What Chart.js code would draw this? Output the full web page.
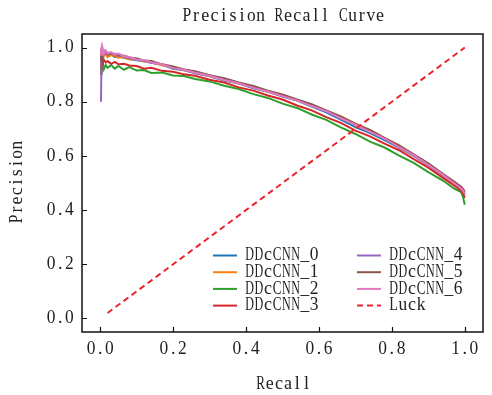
<!DOCTYPE html>
<html>
<head>
<meta charset="utf-8">
<script src="https://cdn.jsdelivr.net/npm/chart.js@4.4.1/dist/chart.umd.min.js"></script>
<style>
  body { margin: 0; background: #fff; }
  #wrap { width: 492px; height: 395px; }
</style>
</head>
<body>
<div id="wrap"><canvas id="pr" width="492" height="395"></canvas></div>
<script>
// recall grid shared by all curves
const recall = [0.002, 0.004, 0.006, 0.01, 0.015, 0.02, 0.03, 0.04, 0.05, 0.065, 0.08, 0.1, 0.12, 0.14, 0.17,
  0.2, 0.23, 0.26, 0.3, 0.34, 0.38, 0.42, 0.46, 0.5, 0.54, 0.58, 0.62, 0.66, 0.7, 0.74, 0.78, 0.82, 0.86,
  0.9, 0.94, 0.97, 0.99, 0.995, 1.0];

const precision0 = [0.95, 1.0, 0.97, 0.98, 0.975, 0.97, 0.975, 0.965, 0.97, 0.962, 0.958, 0.953, 0.949, 0.944, 0.936,
  0.922, 0.916, 0.905, 0.894, 0.878, 0.867, 0.85, 0.837, 0.819, 0.804, 0.782, 0.761, 0.734, 0.706, 0.684, 0.658, 0.631, 0.6,
  0.565, 0.528, 0.499, 0.479, 0.47, 0.458];
const precision1 = [0.97, 0.99, 0.96, 0.975, 0.98, 0.965, 0.972, 0.968, 0.962, 0.965, 0.956, 0.958, 0.949, 0.946, 0.935,
  0.928, 0.916, 0.91, 0.895, 0.883, 0.867, 0.854, 0.837, 0.823, 0.805, 0.788, 0.766, 0.745, 0.719, 0.695, 0.665, 0.637, 0.603,
  0.569, 0.531, 0.501, 0.481, 0.473, 0.462];
const precision2 = [0.93, 0.9, 0.95, 0.92, 0.935, 0.925, 0.935, 0.922, 0.932, 0.918, 0.928, 0.915, 0.917, 0.906, 0.908,
  0.897, 0.895, 0.884, 0.875, 0.859, 0.847, 0.828, 0.814, 0.793, 0.777, 0.753, 0.733, 0.705, 0.681, 0.653, 0.631, 0.601, 0.574,
  0.54, 0.509, 0.48, 0.466, 0.45, 0.42];
const precision3 = [0.9, 0.96, 0.94, 0.955, 0.945, 0.95, 0.94, 0.947, 0.938, 0.94, 0.934, 0.932, 0.922, 0.925, 0.914,
  0.911, 0.901, 0.896, 0.881, 0.871, 0.853, 0.841, 0.823, 0.808, 0.786, 0.768, 0.743, 0.722, 0.693, 0.672, 0.645, 0.621, 0.588,
  0.557, 0.519, 0.492, 0.472, 0.462, 0.445];
const precision4 = [0.8, 1.0, 0.98, 0.99, 0.978, 0.982, 0.975, 0.978, 0.97, 0.968, 0.96, 0.956, 0.953, 0.944, 0.938,
  0.925, 0.919, 0.908, 0.898, 0.882, 0.87, 0.853, 0.84, 0.822, 0.807, 0.785, 0.766, 0.74, 0.716, 0.69, 0.665, 0.634, 0.605,
  0.568, 0.533, 0.502, 0.484, 0.476, 0.466];
const precision5 = [0.97, 0.95, 0.99, 0.97, 0.985, 0.975, 0.98, 0.97, 0.974, 0.97, 0.963, 0.96, 0.952, 0.95, 0.938,
  0.93, 0.919, 0.913, 0.898, 0.887, 0.871, 0.858, 0.841, 0.827, 0.808, 0.791, 0.768, 0.746, 0.718, 0.696, 0.667, 0.639, 0.606,
  0.573, 0.534, 0.506, 0.486, 0.478, 0.468];
const precision6 = [1.0, 0.97, 1.0, 0.975, 0.988, 0.978, 0.983, 0.973, 0.978, 0.968, 0.965, 0.955, 0.954, 0.945, 0.938,
  0.924, 0.918, 0.907, 0.896, 0.88, 0.868, 0.851, 0.838, 0.82, 0.805, 0.784, 0.765, 0.739, 0.715, 0.689, 0.664, 0.632, 0.603,
  0.566, 0.531, 0.5, 0.48, 0.472, 0.46];

const luckX = [0.02, 1.0];
const luckY = [0.02, 1.0];

const seriesNames = ["DDcCNN_0", "DDcCNN_1", "DDcCNN_2", "DDcCNN_3", "DDcCNN_4", "DDcCNN_5", "DDcCNN_6"];
const seriesColors = ["#1f77b4", "#ff7f0e", "#2ca02c", "#d62728", "#9467bd", "#8c564b", "#e377c2"];
const allPrecision = [precision0, precision1, precision2, precision3, precision4, precision5, precision6];

const xTicks = [0.0, 0.2, 0.4, 0.6, 0.8, 1.0];
const yTicks = [0.0, 0.2, 0.4, 0.6, 0.8, 1.0];

const FONT = "18px 'Liberation Serif'";
const CELL = 9.2;   // the original font is fixed width
const TEXT = "#222";

const datasets = seriesNames.map((name, i) => ({
  label: name,
  data: recall.map((r, k) => ({ x: r, y: allPrecision[i][k] })),
  borderColor: seriesColors[i],
  borderWidth: 2,
  order: 20 - i
}));
datasets.push({
  label: "Luck",
  data: luckX.map((x, k) => ({ x: x, y: luckY[k] })),
  borderColor: "#e8262b",
  borderWidth: 2,
  borderDash: [6, 4],
  order: 1
});

// one glyph per fixed cell, wide glyphs squeezed to fit
function drawMono(ctx, text, x, y, align) {
  const total = text.length * CELL;
  const x0 = align === "center" ? x - total / 2 : align === "right" ? x - total : x;
  ctx.textAlign = "center";
  ctx.textBaseline = "middle";
  for (let i = 0; i < text.length; i++) {
    const ch = text[i];
    const w = ctx.measureText(ch).width;
    const sx = w > CELL - 0.5 ? (CELL - 0.5) / w : 1;
    ctx.save();
    ctx.translate(x0 + CELL * (i + 0.5), y);
    ctx.scale(sx, 1);
    ctx.fillText(ch, 0, 0);
    ctx.restore();
  }
}

// frame, inward ticks, labels and legend like the matplotlib figure
const decor = {
  id: "decor",
  afterDatasetsDraw(chart) {
    const { ctx, chartArea: a, scales } = chart;
    ctx.save();
    ctx.strokeStyle = "#111";
    ctx.lineWidth = 1.5;
    ctx.strokeRect(a.left, a.top, a.right - a.left, a.bottom - a.top);
    ctx.lineWidth = 1.2;
    ctx.beginPath();
    xTicks.forEach(v => {
      const px = Math.round(scales.x.getPixelForValue(v)) + 0.5;
      ctx.moveTo(px, a.bottom);
      ctx.lineTo(px, a.bottom - 5);
    });
    yTicks.forEach(v => {
      const py = Math.round(scales.y.getPixelForValue(v)) + 0.5;
      ctx.moveTo(a.left, py);
      ctx.lineTo(a.left + 5, py);
    });
    ctx.stroke();

    ctx.fillStyle = TEXT;
    ctx.font = FONT;
    xTicks.forEach(v => drawMono(ctx, v.toFixed(1), scales.x.getPixelForValue(v), a.bottom + 17, "center"));
    yTicks.forEach(v => drawMono(ctx, v.toFixed(1), a.left - 8, scales.y.getPixelForValue(v), "right"));

    const cx = (a.left + a.right) / 2 + 1;
    drawMono(ctx, "Precision Recall Curve", cx, 16, "center");
    drawMono(ctx, "Recall", cx, 384, "center");
    ctx.save();
    ctx.translate(17, (a.top + a.bottom) / 2);
    ctx.rotate(-Math.PI / 2);
    drawMono(ctx, "Precision", 1, 0, "center");
    ctx.restore();

    // legend in two columns
    chart.data.datasets.forEach((ds, i) => {
      const col = i < 4 ? 0 : 1;
      const row = i % 4;
      const lx = col === 0 ? 213 : 357;
      const ly = 255.5 + row * 16.7;
      ctx.save();
      ctx.strokeStyle = ds.borderColor;
      ctx.lineWidth = 2;
      ctx.setLineDash(ds.borderDash || []);
      ctx.beginPath();
      ctx.moveTo(lx, ly);
      ctx.lineTo(lx + 24, ly);
      ctx.stroke();
      ctx.restore();
      drawMono(ctx, ds.label, lx + 32, ly, "left");
    });
    ctx.restore();
  }
};

new Chart(document.getElementById("pr"), {
  type: "scatter",
  data: { datasets: datasets },
  options: {
    responsive: false,
    animation: false,
    showLine: true,
    elements: { point: { radius: 0 }, line: { tension: 0 } },
    layout: { padding: { top: 34, right: 9, left: 0, bottom: 0 } },
    plugins: { legend: { display: false }, tooltip: { enabled: false }, title: { display: false } },
    scales: {
      x: {
        type: "linear", min: -0.05, max: 1.05,
        grid: { display: false }, border: { display: false },
        afterBuildTicks: s => { s.ticks = xTicks.map(v => ({ value: v })); },
        afterFit: s => { s.height = 63; },
        ticks: { display: false }
      },
      y: {
        type: "linear", min: -0.05, max: 1.05,
        grid: { display: false }, border: { display: false },
        afterBuildTicks: s => { s.ticks = yTicks.map(v => ({ value: v })); },
        afterFit: s => { s.width = 82; },
        ticks: { display: false }
      }
    }
  },
  plugins: [decor]
});
</script>
</body>
</html>
